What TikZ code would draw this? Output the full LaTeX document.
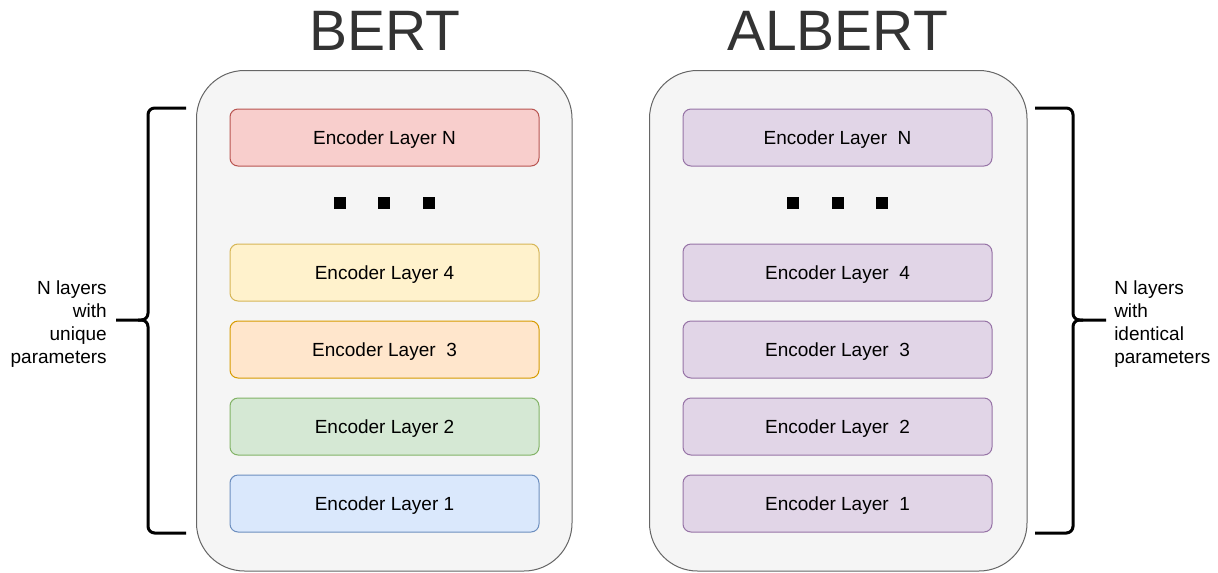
\documentclass[tikz,border=0pt]{standalone}
\usepackage{fontspec}
\setmainfont{Liberation Sans}
\usetikzlibrary{positioning}
\definecolor{panelfill}{HTML}{F5F5F5}
\definecolor{panelline}{HTML}{666666}
\definecolor{titlegray}{HTML}{333333}
\definecolor{redfill}{HTML}{F8CECC}\definecolor{redline}{HTML}{B85450}
\definecolor{yelfill}{HTML}{FFF2CC}\definecolor{yelline}{HTML}{D6B656}
\definecolor{orgfill}{HTML}{FFE6CC}\definecolor{orgline}{HTML}{D79B00}
\definecolor{grnfill}{HTML}{D5E8D4}\definecolor{grnline}{HTML}{82B366}
\definecolor{blufill}{HTML}{DAE8FC}\definecolor{bluline}{HTML}{6C8EBF}
\definecolor{purfill}{HTML}{E1D5E7}\definecolor{purline}{HTML}{9673A6}
\tikzset{
  panel/.style={draw=panelline, fill=panelfill, line width=0.75pt, rounded corners=36pt},
  layerbox/.style={rounded corners=6pt, line width=0.75pt, minimum width=231.75pt,
    minimum height=42.75pt, inner sep=0pt, text height=10.3pt, text depth=0pt,
    font=\fontsize{14.25}{17}\selectfont},
  title/.style={text=titlegray, font=\fontsize{42.75}{50}\selectfont, inner sep=0pt},
  dotsq/.style={fill=black, minimum size=9pt, inner sep=0pt},
  brace/.style={line width=2.25pt, rounded corners=5pt},
  sidelabel/.style={font=\fontsize{14.25}{17.1}\selectfont, inner sep=0pt}
}
\begin{document}
\begin{tikzpicture}[x=0.75pt, y=-0.75pt]
\useasboundingbox (0,0) rectangle (1218,572);

% Titles
\node[title, anchor=base] (tb) at (384.5,50) {BERT};
\node[title, anchor=base] (ta) at (837.5,50) {ALBERT};

% Outer panels
\draw[panel] (196.5,70.5) rectangle (572,571);
\draw[panel] (649.5,70.5) rectangle (1027,571);

% BERT layers
\node[layerbox, draw=redline, fill=redfill] (bN) at (384.5,137.5) {Encoder Layer N};
\node[layerbox, draw=yelline, fill=yelfill] (b4) at (384.5,272.5) {Encoder Layer 4};
\node[layerbox, draw=orgline, fill=orgfill] (b3) at (384.5,349.5) {Encoder Layer~ 3};
\node[layerbox, draw=grnline, fill=grnfill] (b2) at (384.5,426.5) {Encoder Layer 2};
\node[layerbox, draw=bluline, fill=blufill] (b1) at (384.5,503.5) {Encoder Layer 1};

% ALBERT layers (shared parameters)
\node[layerbox, draw=purline, fill=purfill] (aN) at (837.5,137.5) {Encoder Layer~ N};
\node[layerbox, draw=purline, fill=purfill] (a4) at (837.5,272.5) {Encoder Layer~ 4};
\node[layerbox, draw=purline, fill=purfill] (a3) at (837.5,349.5) {Encoder Layer~ 3};
\node[layerbox, draw=purline, fill=purfill] (a2) at (837.5,426.5) {Encoder Layer~ 2};
\node[layerbox, draw=purline, fill=purfill] (a1) at (837.5,503.5) {Encoder Layer~ 1};

% Ellipsis squares
\node[dotsq] (bd1) at (340,203) {};
\node[dotsq] (bd2) at (384,203) {};
\node[dotsq] (bd3) at (429,203) {};
\node[dotsq] (ad1) at (792.5,203) {};
\node[dotsq] (ad2) at (837.5,203) {};
\node[dotsq] (ad3) at (882,203) {};

% Left brace and label
\node[sidelabel, align=right, anchor=east] (ll) at (107,324) {N layers\\with\\unique\\parameters};
\coordinate (lbt) at (186,108);
\coordinate (lbb) at (186,533);
\draw[brace] (lbt) -- (148,108) -- (148,320) -- (116,320);
\draw[brace] (lbb) -- (148,533) -- (148,320) -- (138,320);

% Right brace and label
\node[sidelabel, align=left, anchor=west] (rl) at (1114,324) {N layers\\with\\identical\\parameters};
\coordinate (rbt) at (1035,108);
\coordinate (rbb) at (1035,533);
\draw[brace] (rbt) -- (1073,108) -- (1073,320) -- (1106,320);
\draw[brace] (rbb) -- (1073,533) -- (1073,320) -- (1083,320);
\end{tikzpicture}
\end{document}
